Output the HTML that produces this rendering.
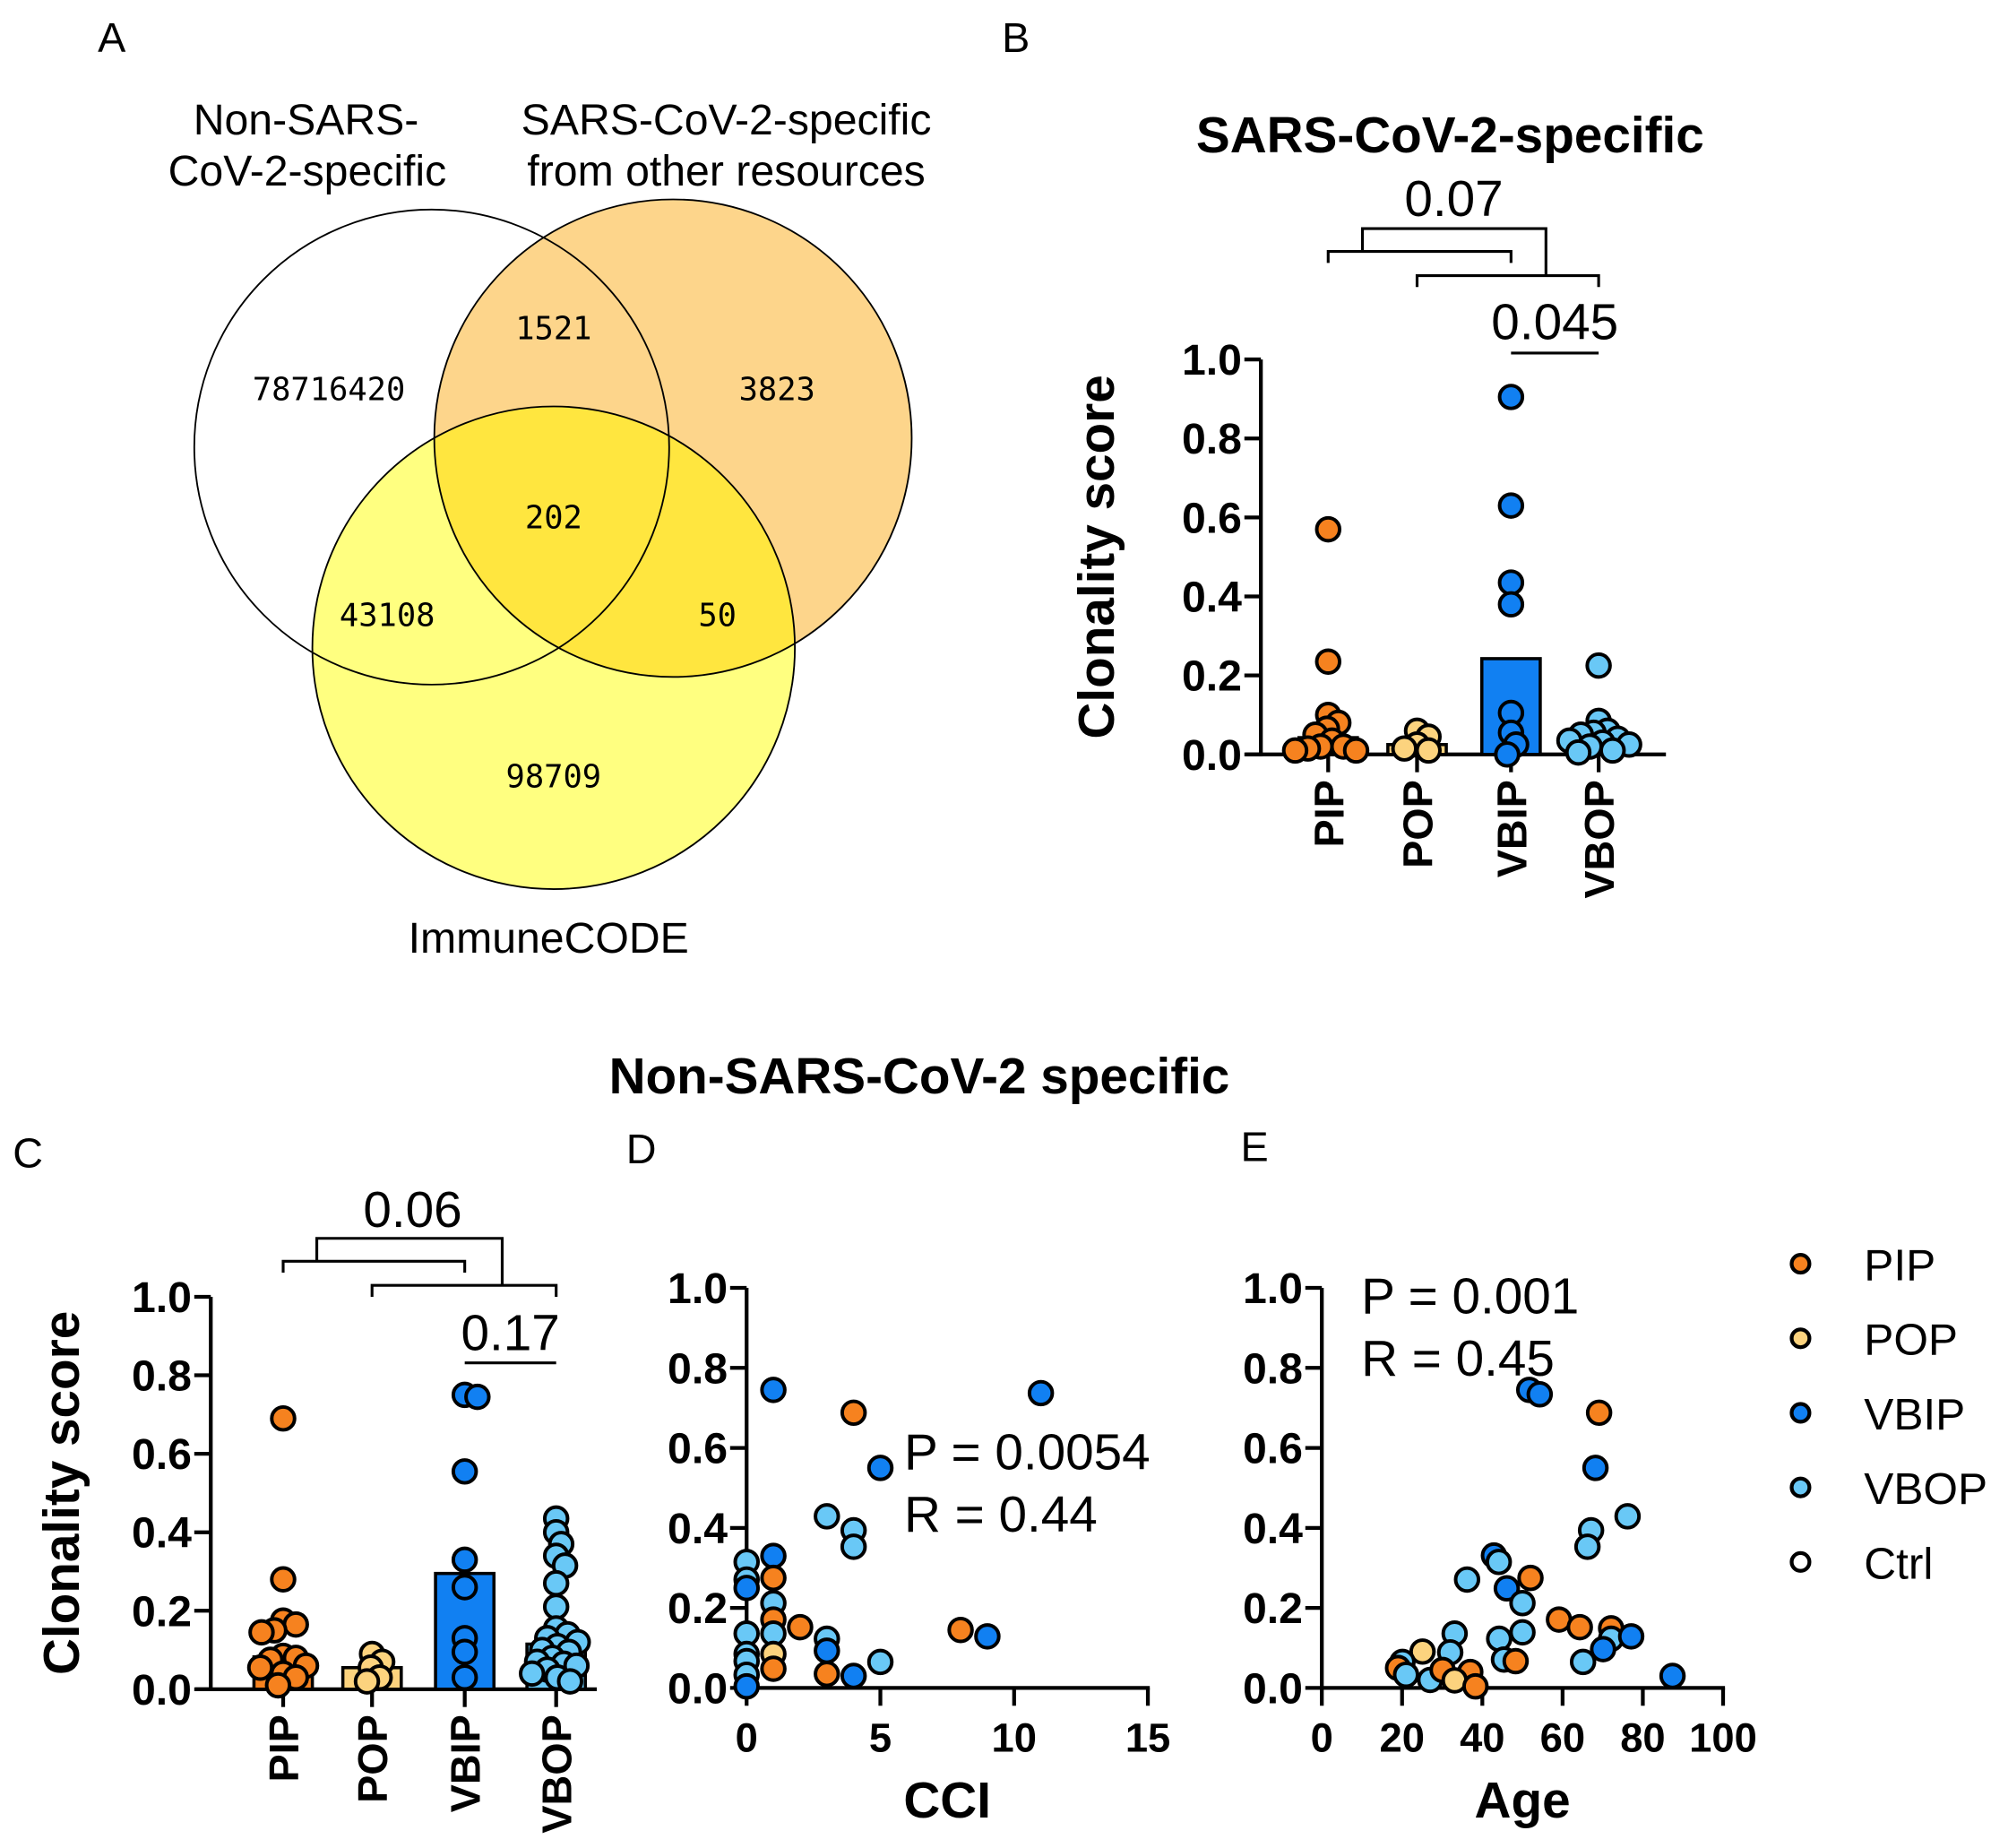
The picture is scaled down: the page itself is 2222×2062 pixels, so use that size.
<!DOCTYPE html>
<html><head><meta charset="utf-8">
<style>
html,body{margin:0;padding:0;background:#fff;}
svg{display:block;}
text{font-family:"Liberation Sans",Arial,sans-serif;}
.mono{font-family:"DejaVu Sans Mono","Liberation Mono",monospace;}
</style></head>
<body>
<svg id="fig" xmlns="http://www.w3.org/2000/svg" width="2222" height="2062" viewBox="0 0 1568 1455" preserveAspectRatio="none">
<defs>
<clipPath id="clipOrange"><circle cx="530" cy="345" r="188"/></clipPath>
</defs>
<rect x="0" y="0" width="1568" height="1455" fill="#fff"/>
<g>
<text x="88" y="41" font-size="33" text-anchor="middle">A</text>
<circle cx="530" cy="345" r="188" fill="#fdd58b"/>
<circle cx="436" cy="510" r="190" fill="#ffff80"/>
<circle cx="436" cy="510" r="190" fill="#ffe63f" clip-path="url(#clipOrange)"/>
<circle cx="340" cy="352" r="187" fill="none" stroke="#000" stroke-width="1.3"/>
<circle cx="530" cy="345" r="188" fill="none" stroke="#000" stroke-width="1.3"/>
<circle cx="436" cy="510" r="190" fill="none" stroke="#000" stroke-width="1.3"/>
<g class="mono" font-size="25" text-anchor="middle">
<text class="mono" x="259" y="315">78716420</text>
<text class="mono" x="436" y="267">1521</text>
<text class="mono" x="612" y="315">3823</text>
<text class="mono" x="436" y="416">202</text>
<text class="mono" x="305" y="493">43108</text>
<text class="mono" x="565" y="493">50</text>
<text class="mono" x="436" y="620">98709</text>
</g>
<g font-size="34" text-anchor="middle">
<text x="241" y="106">Non-SARS-</text>
<text x="242" y="146">CoV-2-specific</text>
<text x="572" y="106">SARS-CoV-2-specific</text>
<text x="572" y="146">from other resources</text>
<text x="432" y="750">ImmuneCODE</text>
</g>
</g>
<g id="panelB"></g>
<g id="panelC"></g>
<g id="panelD"></g>
<g id="panelE"></g>
<g id="legend"></g>
</svg>
<script>
const groups = ["PIP","POP","VBIP","VBOP"];
const groupColors = {PIP:"#f6821f",POP:"#fcd37e",VBIP:"#1180f2",VBOP:"#69c8f6",Ctrl:"#ffffff"};
const yTicks = [0,0.2,0.4,0.6,0.8,1.0];
const yTickLabels = ["0.0","0.2","0.4","0.6","0.8","1.0"];

// Panel B values
const bPIP = [0.57,0.235,0.10,0.08,0.065,0.05,0.035,0.02,0.02,0.015,0.01,0.01];
const bPOP = [0.06,0.045,0.025,0.015,0.01];
const bVBIP = [0.905,0.63,0.435,0.38,0.105,0.055,0.025,0.0];
const bVBOP = [0.225,0.085,0.06,0.055,0.05,0.04,0.035,0.03,0.025,0.02,0.01,0.005];
const bPvals = ["0.07","0.045"];

// Panel C values
const cPIP = [0.69,0.28,0.175,0.165,0.15,0.145,0.085,0.08,0.075,0.06,0.055,0.04,0.03,0.01];
const cPOP = [0.09,0.07,0.055,0.03,0.02];
const cVBIP = [0.75,0.745,0.555,0.33,0.26,0.13,0.095,0.03];
const cVBOP = [0.435,0.40,0.37,0.34,0.315,0.27,0.21,0.155,0.14,0.13,0.12,0.11,0.10,0.095,0.08,0.07,0.065,0.06,0.05,0.04,0.03,0.02];
const cPvals = ["0.06","0.17"];

// Panel D: CCI vs clonality
const dGroup = ["VBIP","VBIP","PIP","VBIP","VBOP","VBOP","VBOP","VBOP","VBOP","VBIP","VBIP","PIP","VBOP","PIP","VBOP","POP","PIP","PIP","VBOP","VBIP","PIP","VBIP","VBOP","PIP","VBIP","VBOP","VBOP","VBOP","VBOP","VBIP"];
const dCCI =   [1,11,4,5,3,4,4,0,0,0,1,1,1,1,1,1,1,2,3,3,3,4,5,8,9,0,0,0,0,0];
const dScore = [0.745,0.737,0.688,0.55,0.429,0.394,0.353,0.315,0.271,0.25,0.33,0.275,0.212,0.171,0.136,0.085,0.048,0.152,0.123,0.093,0.035,0.03,0.065,0.145,0.129,0.136,0.085,0.067,0.033,0.004];
const dXTicks = [0,5,10,15];

// Panel E: Age vs clonality
const eGroup = ["VBIP","VBIP","PIP","VBIP","VBOP","VBOP","VBOP","VBIP","VBOP","VBOP","PIP","VBIP","VBOP","PIP","PIP","PIP","VBOP","VBIP","VBIP","VBOP","VBOP","VBOP","VBOP","VBOP","VBOP","PIP","POP","VBOP","PIP","VBOP","VBOP","PIP","PIP","POP","PIP","VBIP"];
const eAge =   [51.7,54.3,69.1,68.2,76.2,67.1,66.2,42.9,44.1,36.2,52,46.1,50,59.1,64.3,72.1,72.1,77.1,70.1,65.1,33.1,32,44.2,50,45.4,48.3,25.1,20.1,19,21,27,30.1,37,33.1,38.3,87.4];
const eScore = [0.745,0.734,0.688,0.55,0.429,0.394,0.353,0.331,0.315,0.271,0.275,0.249,0.212,0.171,0.152,0.149,0.123,0.129,0.097,0.065,0.136,0.089,0.123,0.139,0.071,0.067,0.091,0.065,0.05,0.033,0.02,0.045,0.04,0.019,0.004,0.03];
const eXTicks = [0,20,40,60,80,100];

const legendItems = ["PIP","POP","VBIP","VBOP","Ctrl"];

const NS = "http://www.w3.org/2000/svg";
function mk(parent, tag, attrs, txt){
  const el = document.createElementNS(NS, tag);
  for (const k in attrs) el.setAttribute(k, attrs[k]);
  if (txt !== undefined) el.textContent = txt;
  parent.appendChild(el);
  return el;
}
function median(a){const s=[...a].sort((x,y)=>x-y);const n=s.length;return n%2?s[(n-1)/2]:(s[n/2-1]+s[n/2])/2;}

function yAxis(g, x0, y0, y1, axisName){
  const sy = v => y0 - v*(y0-y1);
  const ax = mk(g,"line",{x1:x0,y1:y0+1.5,x2:x0,y2:y1,stroke:"#000","stroke-width":3});
  
  
  yTicks.forEach((t,i)=>{
    mk(g,"line",{x1:x0-13,y1:sy(t),x2:x0,y2:sy(t),stroke:"#000","stroke-width":3});
    const tl = mk(g,"text",{x:x0-15,y:sy(t)+12,"font-size":34,"font-weight":"bold","text-anchor":"end"},yTickLabels[i]);
    
    
  });
  return sy;
}

function swarm(vals, cx, sy, r){
  const placed=[]; const out=[];
  vals.forEach(v=>{
    const y=sy(v); let dx=0;
    for(let k=0;k<80;k++){
      const c = (k%2?1:-1)*Math.ceil(k/2);
      const ok = placed.every(p=>Math.hypot(p[0]-(cx+c),p[1]-y) >= 2*r*0.55);
      if(ok){dx=c;break;}
    }
    placed.push([cx+dx,y]); out.push([cx+dx,y]);
  });
  return out;
}

function catPanel(id, cfg){
  const g=document.getElementById(id);
  const sy = yAxis(g,cfg.x0,cfg.y0,cfg.y1,'y-axis');
  const xa = mk(g,"line",{x1:cfg.x0-12,y1:cfg.y0,x2:cfg.xEnd,y2:cfg.y0,stroke:"#000","stroke-width":3});
  
  
  const yt = mk(g,"text",{transform:`translate(${cfg.titleX},${(cfg.y0+cfg.y1)/2}) rotate(-90)`,"font-size":40,"font-weight":"bold","text-anchor":"middle"},"Clonality score");
  
  
  groups.forEach((gr,i)=>{
    const cx=cfg.cats[i];
    const vals=cfg.data[i];
    const m=median(vals);
    const bar = mk(g,"rect",{x:cx-23,y:sy(m),width:46,height:cfg.y0-sy(m),fill:groupColors[gr],stroke:"#000","stroke-width":2.5});
    
    
    mk(g,"line",{x1:cx,y1:cfg.y0,x2:cx,y2:cfg.y0+14,stroke:"#000","stroke-width":3});
    const lbl = mk(g,"text",{transform:`translate(${cx+12},${cfg.y0+20}) rotate(-90)`,"font-size":33,"font-weight":"bold","text-anchor":"end"},gr);
    
    
    swarm(vals,cx,sy,9).forEach(p=>{
      const c = mk(g,"circle",{cx:p[0],cy:p[1],r:9,fill:groupColors[gr],stroke:"#000","stroke-width":2.8});
      
      
    });
  });
  const c=cfg.cats, b=cfg.br;
  const path = `M${c[0]},${b.a+9} V${b.a} H${c[2]} V${b.a+9} M${c[1]},${b.b+9} V${b.b} H${c[3]} V${b.b+9} M${(c[0]+c[2])/2-45},${b.a} V${b.top} H${(c[1]+c[3])/2+30} V${b.b}`;
  const br = mk(g,"path",{d:path,fill:"none",stroke:"#000","stroke-width":2.2});
  
  
  const p1 = mk(g,"text",{x:b.t1x,y:b.t1y,"font-size":40,"text-anchor":"middle"},cfg.pv[0]);
  
  
  const p2 = mk(g,"text",{x:(c[2]+c[3])/2,y:b.t2y,"font-size":40,"text-anchor":"middle"},cfg.pv[1]);
  
  
  mk(g,"line",{x1:c[2],y1:b.line,x2:c[3],y2:b.line,stroke:"#000","stroke-width":2.2});
}

catPanel("panelB",{x0:993,y0:594,y1:283,xEnd:1312,cats:[1046,1116,1190,1259],titleX:877,
  data:[bPIP,bPOP,bVBIP,bVBOP],pv:bPvals,
  br:{a:198,b:217,top:180,t1x:1145,t1y:170,t2y:267,line:278}});
catPanel("panelC",{x0:166,y0:1330,y1:1021,xEnd:470,cats:[223,293,366,438],titleX:62,
  data:[cPIP,cPOP,cVBIP,cVBOP],pv:cPvals,
  br:{a:993,b:1012,top:975,t1x:325,t1y:966,t2y:1063,line:1073}});

function scatterPanel(id,cfg){
  const g=document.getElementById(id);
  const sy = yAxis(g,cfg.x0,cfg.y0,cfg.y1,'y-axis');
  const sx = v => cfg.x0 + (v-cfg.xt[0])/(cfg.xt[cfg.xt.length-1]-cfg.xt[0])*(cfg.xEnd-cfg.x0);
  const xa = mk(g,"line",{x1:cfg.x0-1.5,y1:cfg.y0,x2:cfg.xEnd+1.5,y2:cfg.y0,stroke:"#000","stroke-width":3});
  
  
  cfg.xt.forEach(t=>{
    mk(g,"line",{x1:sx(t),y1:cfg.y0,x2:sx(t),y2:cfg.y0+14,stroke:"#000","stroke-width":3});
    const tl = mk(g,"text",{x:sx(t),y:cfg.y0+50,"font-size":32,"font-weight":"bold","text-anchor":"middle"},String(t));
    
    
  });
  const xt = mk(g,"text",{x:(cfg.x0+cfg.xEnd)/2,y:cfg.y0+102,"font-size":40,"font-weight":"bold","text-anchor":"middle"},cfg.xTitle);
  
  
  cfg.grp.forEach((gr,i)=>{
    const c = mk(g,"circle",{cx:sx(cfg.xs[i]),cy:sy(cfg.ys[i]),r:9,fill:groupColors[gr],stroke:"#000","stroke-width":2.8});
    
    
  });
  const s1 = mk(g,"text",{x:cfg.sx,y:cfg.sy,"font-size":40},cfg.stat[0]);
  
  
  const s2 = mk(g,"text",{x:cfg.sx,y:cfg.sy+49,"font-size":40},cfg.stat[1]);
  
  
}
scatterPanel("panelD",{x0:588,y0:1329,y1:1014,xEnd:904,xt:dXTicks,xTitle:"CCI",
  grp:dGroup,xs:dCCI,ys:dScore,stat:["P = 0.0054","R = 0.44"],sx:712,sy:1157});
scatterPanel("panelE",{x0:1041,y0:1329,y1:1014,xEnd:1357,xt:eXTicks,xTitle:"Age",
  grp:eGroup,xs:eAge,ys:eScore,stat:["P = 0.001","R = 0.45"],sx:1072,sy:1034});

const svg=document.getElementById("fig");
const t1 = mk(svg,"text",{x:1142,y:120,"font-size":40,"font-weight":"bold","text-anchor":"middle"},"SARS-CoV-2-specific");


const t2 = mk(svg,"text",{x:724,y:861,"font-size":40,"font-weight":"bold","text-anchor":"middle"},"Non-SARS-CoV-2 specific");


[["B",800,41],["C",22,919],["D",505,916],["E",988,914]].forEach(l=>{
  const e = mk(svg,"text",{x:l[1],y:l[2],"font-size":33,"text-anchor":"middle"},l[0]);
  
  
});

const lg=document.getElementById("legend");
legendItems.forEach((it,i)=>{
  const y = 995 + i*58.7;
  const m = mk(lg,"circle",{cx:1418,cy:y,r:7,fill:groupColors[it],stroke:"#000","stroke-width":3});
  
  
  const t = mk(lg,"text",{x:1468,y:y+13,"font-size":35},it);
  
  
});
</script>
</body></html>
